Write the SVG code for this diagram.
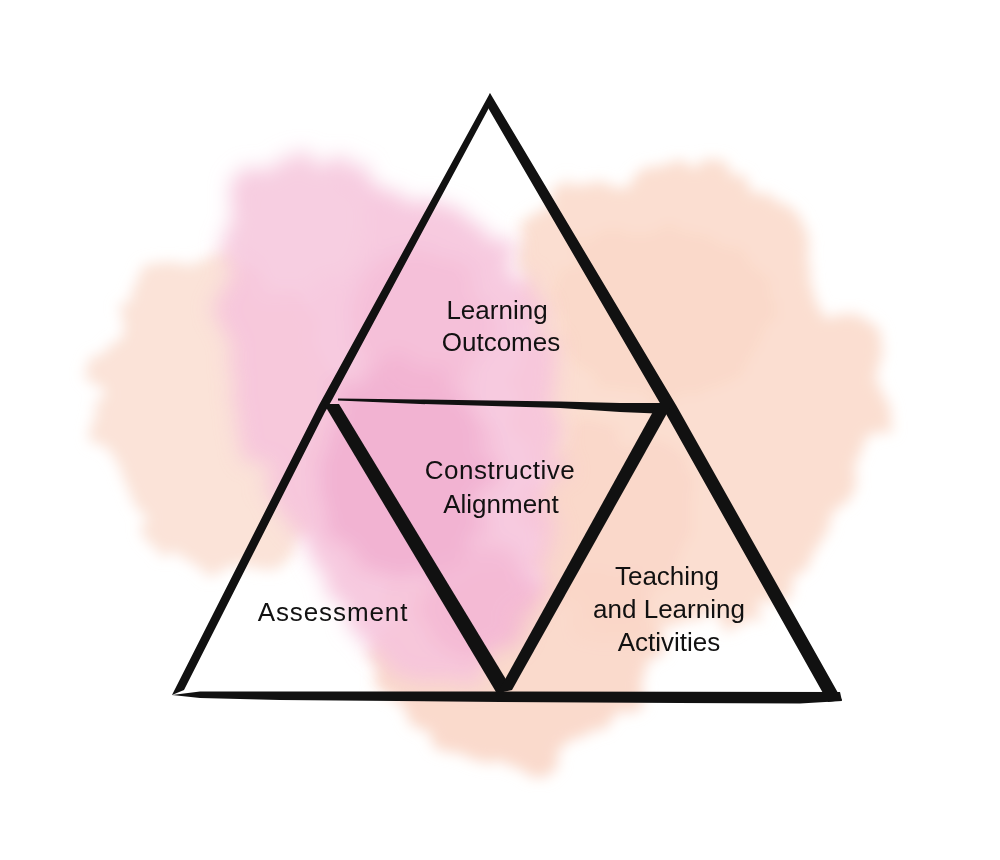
<svg xmlns="http://www.w3.org/2000/svg" width="1000" height="860" viewBox="0 0 1000 860">
  <defs>
    <filter id="wc" x="-20%" y="-20%" width="140%" height="140%">
      <feTurbulence type="fractalNoise" baseFrequency="0.02" numOctaves="4" seed="11" result="noise"/>
      <feDisplacementMap in="SourceGraphic" in2="noise" scale="60" xChannelSelector="R" yChannelSelector="G" result="disp"/>
      <feGaussianBlur in="disp" stdDeviation="7"/>
    </filter>
    <filter id="wc2" x="-20%" y="-20%" width="140%" height="140%">
      <feTurbulence type="fractalNoise" baseFrequency="0.035" numOctaves="3" seed="3" result="noise"/>
      <feDisplacementMap in="SourceGraphic" in2="noise" scale="45" xChannelSelector="G" yChannelSelector="B" result="disp"/>
      <feGaussianBlur in="disp" stdDeviation="10"/>
    </filter>
    <style>
      .lbl { font-family: "Liberation Sans", Arial, sans-serif; font-size: 26px; fill: #111111; text-anchor: middle; }
      .ink { fill: #111111; }
    </style>
  </defs>
  <rect x="0" y="0" width="1000" height="860" fill="#ffffff"/>

  <!-- watercolor background -->
  <g id="background">
    <g filter="url(#wc)">
      <path d="M 110 300 C 150 250 240 250 300 290 C 340 330 340 420 320 500 C 300 560 240 580 180 560 C 120 530 95 450 100 380 Z" fill="#fbe0d4" opacity="0.9"/>
      <path d="M 520 215 C 600 180 670 150 725 170 C 790 195 805 250 835 305 C 885 345 892 410 862 465 C 838 525 815 585 760 605 L 620 640 C 555 650 528 560 522 450 Z" fill="#fbdccf" opacity="0.95"/>
      <ellipse cx="660" cy="310" rx="110" ry="90" fill="#f9d3c3" opacity="0.45"/>
      <path d="M 380 600 C 440 570 560 560 640 590 C 680 640 660 700 600 720 C 580 760 520 775 470 760 C 410 745 380 700 385 660 Z" fill="#fad8c9" opacity="0.95"/>
      <ellipse cx="610" cy="520" rx="80" ry="90" fill="#f9d6c7" opacity="0.7"/>
    </g>
    <g filter="url(#wc2)">
      <path d="M 245 175 C 290 150 350 155 385 185 C 440 205 515 235 540 300 C 565 380 560 480 545 560 C 525 640 485 690 430 682 C 380 672 340 625 318 565 C 270 505 238 445 235 385 C 222 300 215 215 245 175 Z" fill="#f6c4dc" opacity="0.9"/>
      <ellipse cx="300" cy="225" rx="65" ry="65" fill="#f8d0e3" opacity="0.7"/>
      <ellipse cx="405" cy="470" rx="85" ry="110" fill="#f1aacd" opacity="0.7"/>
      <ellipse cx="480" cy="600" rx="55" ry="55" fill="#f2b0d0" opacity="0.6"/>
      <ellipse cx="420" cy="320" rx="70" ry="70" fill="#f4b8d5" opacity="0.55"/>
    </g>
  </g>

  <!-- connectors: brush strokes of the triangles -->
  <g id="connectors">
    <!-- outer left edge -->
    <polygon class="ink" points="490,93 319,405 172,695 184,690 325,412 332,400 491,104"/>
    <!-- outer right edge -->
    <polygon class="ink" points="490,93 676,405 842,700 828,702 661,405 487,106"/>
    <!-- bottom edge -->
    <polygon class="ink" points="172,695 200,691.5 500,691.5 840,692 842,701 800,703.5 500,702 280,700 200,698"/>
    <!-- inner top edge -->
    <polygon class="ink" points="338,398.5 420,399.5 560,401.5 620,403 668,403 668,414 620,412 560,408 420,404 338,400.5"/>
    <!-- inner left edge -->
    <polygon class="ink" points="324,404 339,404 510,686 503,692 496,692"/>
    <!-- inner right edge -->
    <polygon class="ink" points="655,408 670,408 512,690 503,692 498,692"/>
  </g>

  <g id="node-learning-outcomes">
    <text class="lbl" x="497" y="319">Learning</text>
    <text class="lbl" x="501" y="351">Outcomes</text>
  </g>
  <g id="node-constructive-alignment">
    <text class="lbl" x="500" y="479" letter-spacing="0.5">Constructive</text>
    <text class="lbl" x="501" y="513">Alignment</text>
  </g>
  <g id="node-assessment">
    <text class="lbl" x="333" y="621" letter-spacing="0.9">Assessment</text>
  </g>
  <g id="node-teaching-learning">
    <text class="lbl" x="667" y="585">Teaching</text>
    <text class="lbl" x="669" y="618">and Learning</text>
    <text class="lbl" x="669" y="651">Activities</text>
  </g>
</svg>
